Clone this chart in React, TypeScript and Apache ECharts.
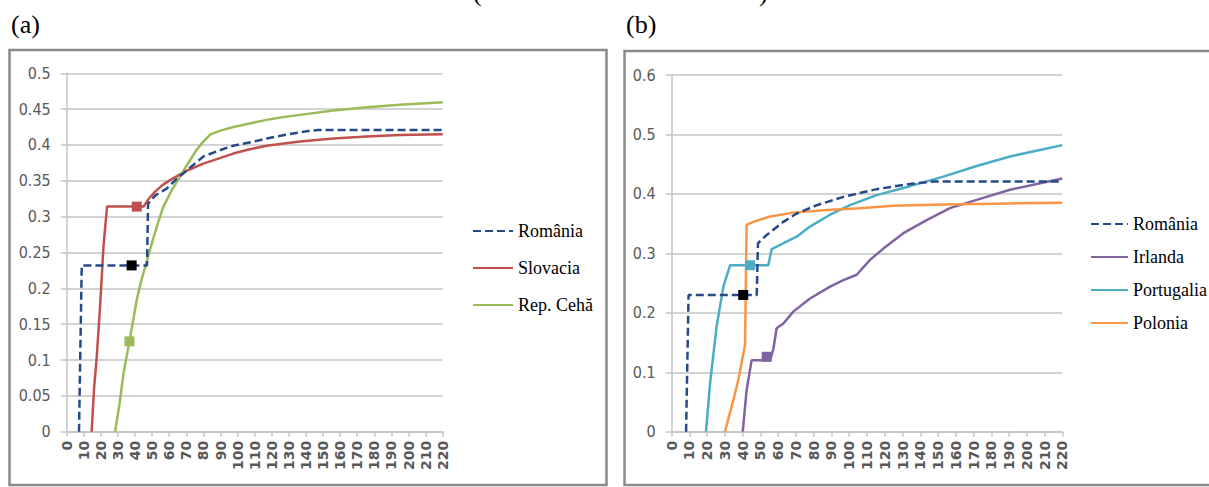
import React, { useEffect, useRef } from "react";
import * as echarts from "echarts";

// ---------- data ----------
const xTicksMax = 220;
const yMaxA = 0.5;
const yMaxB = 0.6;

const legendA = ["România", "Slovacia", "Rep. Cehă"];
const legendB = ["România", "Irlanda", "Portugalia", "Polonia"];

// panel (a)
const romaniaA: [number, number][] = [
  [7.2, 0], [8.8, 0.232], [47, 0.232], [47.6, 0.318], [52, 0.33], [58.5, 0.339],
  [64, 0.352], [69, 0.362], [75, 0.374], [80, 0.384], [90, 0.393], [97.5, 0.399],
  [110, 0.405], [117, 0.409], [130, 0.415], [140, 0.419], [147, 0.421], [220, 0.421],
];
const slovaciaA: [number, number][] = [
  [14.6, 0], [16, 0.06], [17.6, 0.105], [19.5, 0.174], [21.5, 0.258], [23.6, 0.314],
  [45, 0.314], [48, 0.325], [51.7, 0.335], [56, 0.344], [60.5, 0.351], [69.2, 0.363],
  [80, 0.374], [90, 0.382], [97.5, 0.388], [107, 0.394], [117, 0.399], [127, 0.402],
  [136.5, 0.405], [156, 0.409], [175.5, 0.412], [195, 0.414], [220, 0.415],
];
const cehaA: [number, number][] = [
  [28.3, 0], [31, 0.04], [33.2, 0.081], [36.7, 0.126], [41, 0.184], [43.5, 0.21],
  [46.2, 0.232], [50.3, 0.267], [53.5, 0.292], [56.6, 0.314], [61, 0.335], [67.3, 0.36],
  [72, 0.378], [76, 0.393], [80, 0.405], [84.3, 0.415], [90, 0.42], [97.5, 0.425],
  [107, 0.43], [117, 0.435], [127, 0.439], [136.5, 0.442], [156, 0.448], [175.5, 0.4525],
  [195, 0.456], [220, 0.4595],
];
const markersA: [number, number][] = [[38, 0.232], [41, 0.314], [36.7, 0.126]];

// panel (b)
const romaniaB: [number, number][] = [
  [8.1, 0], [9.5, 0.23], [47.9, 0.23], [48.6, 0.317], [53.5, 0.331], [62.9, 0.353],
  [70.4, 0.367], [81.7, 0.381], [96.7, 0.395], [115.4, 0.408], [134.2, 0.4167],
  [147.4, 0.421], [220, 0.421],
];
const irlandaB: [number, number][] = [
  [40, 0], [42.2, 0.07], [45, 0.12], [55.4, 0.12], [57.3, 0.14], [59.1, 0.174],
  [62.9, 0.182], [68.5, 0.202], [77.9, 0.224], [89.2, 0.244], [96.7, 0.255],
  [104.2, 0.264], [111.7, 0.289], [119.2, 0.308], [130.5, 0.334], [143.6, 0.356],
  [156.7, 0.376], [171.8, 0.39], [190.5, 0.407], [220, 0.426],
];
const portugaliaB: [number, number][] = [
  [19.3, 0], [21.6, 0.081], [25.3, 0.177], [29.1, 0.244], [32.9, 0.28], [54.4, 0.28],
  [56.3, 0.307], [62.9, 0.317], [70.4, 0.328], [77.9, 0.345], [89.2, 0.365],
  [100.4, 0.381], [115.4, 0.398], [134.2, 0.413], [153, 0.429], [171.8, 0.447],
  [190.5, 0.463], [209.3, 0.475], [220, 0.482],
];
const poloniaB: [number, number][] = [
  [30, 0], [34.7, 0.053], [37.5, 0.087], [41.3, 0.146], [42.2, 0.348], [46, 0.353],
  [55.4, 0.362], [68.5, 0.3685], [87.3, 0.373], [106, 0.376], [124.8, 0.38],
  [153, 0.382], [190.5, 0.384], [220, 0.385],
];
const markersB: [number, number][] = [[40.3, 0.23], [53.5, 0.126], [44.2, 0.28]];

// ---------- styles ----------
const NAVY = "#254A87";
const RED = "#C0504D";
const GREEN = "#9BBB59";
const PURPLE = "#8064A2";
const TEAL = "#4BACC6";
const ORANGE = "#F79646";
const GRID = "#c4c4c4";
const LABEL = "#595959";

function xAxis(gridIndex: number) {
  return {
    type: "value",
    gridIndex,
    min: 0,
    max: xTicksMax,
    interval: 10,
    axisLine: { show: true, lineStyle: { color: GRID, width: 1.5 } },
    axisTick: { show: true, length: 5, lineStyle: { color: GRID, width: 1.5 } },
    splitLine: { show: false },
    axisLabel: {
      rotate: 90,
      margin: 9,
      fontFamily: "DejaVu Sans",
      fontWeight: "bold",
      fontSize: 14,
      color: LABEL,
    },
  };
}

function yAxis(gridIndex: number, max: number, interval: number) {
  return {
    type: "value",
    gridIndex,
    min: 0,
    max,
    interval,
    axisLine: { show: true, lineStyle: { color: GRID, width: 1.5 } },
    axisTick: { show: true, length: 6, lineStyle: { color: GRID, width: 1.5 } },
    splitLine: { show: true, lineStyle: { color: GRID, width: 1.5 } },
    axisLabel: {
      margin: 16,
      fontFamily: "'Liberation Sans Narrow', 'DejaVu Sans Condensed', sans-serif",
      fontSize: 16,
      color: LABEL,
    },
  };
}

function line(name: string, data: [number, number][], color: string, idx: number, marker?: [number, number], dashed = false) {
  return {
    type: "line",
    name,
    xAxisIndex: idx,
    yAxisIndex: idx,
    data,
    symbol: "none",
    showSymbol: false,
    lineStyle: { color, width: 2.5, type: dashed ? [8, 4] : "solid" },
    itemStyle: { color },
    markPoint: marker
      ? {
          symbol: "rect",
          symbolSize: 10,
          silent: true,
          label: { show: false },
          itemStyle: { color: dashed ? "#000000" : color },
          data: [{ coord: marker }],
        }
      : undefined,
  };
}

export default function App() {
  const ref = useRef<HTMLDivElement>(null);
  useEffect(() => {
    if (!ref.current) return;
    const chart = echarts.init(ref.current, undefined, { renderer: "svg" });
    const legendText = { fontFamily: "'Liberation Serif', serif", fontSize: 18, color: "#000" };
    chart.setOption({
      animation: false,
      backgroundColor: "#ffffff",
      grid: [
        { left: 66.7, top: 73.3, width: 376, height: 358.4 },
        { left: 671.7, top: 75, width: 390.6, height: 356.7 },
      ],
      xAxis: [xAxis(0), xAxis(1)],
      yAxis: [yAxis(0, yMaxA, 0.05), yAxis(1, yMaxB, 0.1)],
      legend: [
        {
          orient: "vertical",
          left: 472,
          top: 222,
          padding: 0,
          itemWidth: 40,
          itemHeight: 14,
          itemGap: 19,
          data: legendA,
          textStyle: legendText,
          itemStyle: { opacity: 0 },
        },
        {
          orient: "vertical",
          left: 1090,
          top: 215,
          padding: 0,
          itemWidth: 37,
          itemHeight: 14,
          itemGap: 15,
          data: legendB,
          textStyle: legendText,
          itemStyle: { opacity: 0 },
        },
      ],
      graphic: [
        {
          type: "rect",
          z: -10,
          shape: { x: 9.5, y: 50, width: 597, height: 435 },
          style: { fill: "none", stroke: "#8a8a8a", lineWidth: 2.5 },
        },
        {
          type: "rect",
          z: -10,
          shape: { x: 624.5, y: 51, width: 620, height: 434 },
          style: { fill: "none", stroke: "#8a8a8a", lineWidth: 2.5 },
        },
        {
          type: "text",
          x: 11,
          y: 11,
          style: { text: "(a)", font: "26px 'Liberation Serif', serif", fill: "#000", verticalAlign: "top" },
        },
        {
          type: "text",
          x: 626,
          y: 11,
          style: { text: "(b)", font: "26px 'Liberation Serif', serif", fill: "#000", verticalAlign: "top" },
        },
        {
          type: "text",
          x: 473,
          y: -21,
          style: { text: "(", font: "26px 'Liberation Serif', serif", fill: "#000", verticalAlign: "top" },
        },
        {
          type: "text",
          x: 759,
          y: -21,
          style: { text: ")", font: "26px 'Liberation Serif', serif", fill: "#000", verticalAlign: "top" },
        },
      ],
      series: [
        line("Slovacia", slovaciaA, RED, 0, markersA[1]),
        line("Rep. Cehă", cehaA, GREEN, 0, markersA[2]),
        line("România", romaniaA, NAVY, 0, markersA[0], true),
        line("Irlanda", irlandaB, PURPLE, 1, markersB[1]),
        line("Portugalia", portugaliaB, TEAL, 1, markersB[2]),
        line("Polonia", poloniaB, ORANGE, 1),
        line("România", romaniaB, NAVY, 1, markersB[0], true),
      ],
    });
    return () => chart.dispose();
  }, []);
  return <div ref={ref} style={{ position: "fixed", left: 0, top: 0, width: 1209, height: 487 }} />;
}
